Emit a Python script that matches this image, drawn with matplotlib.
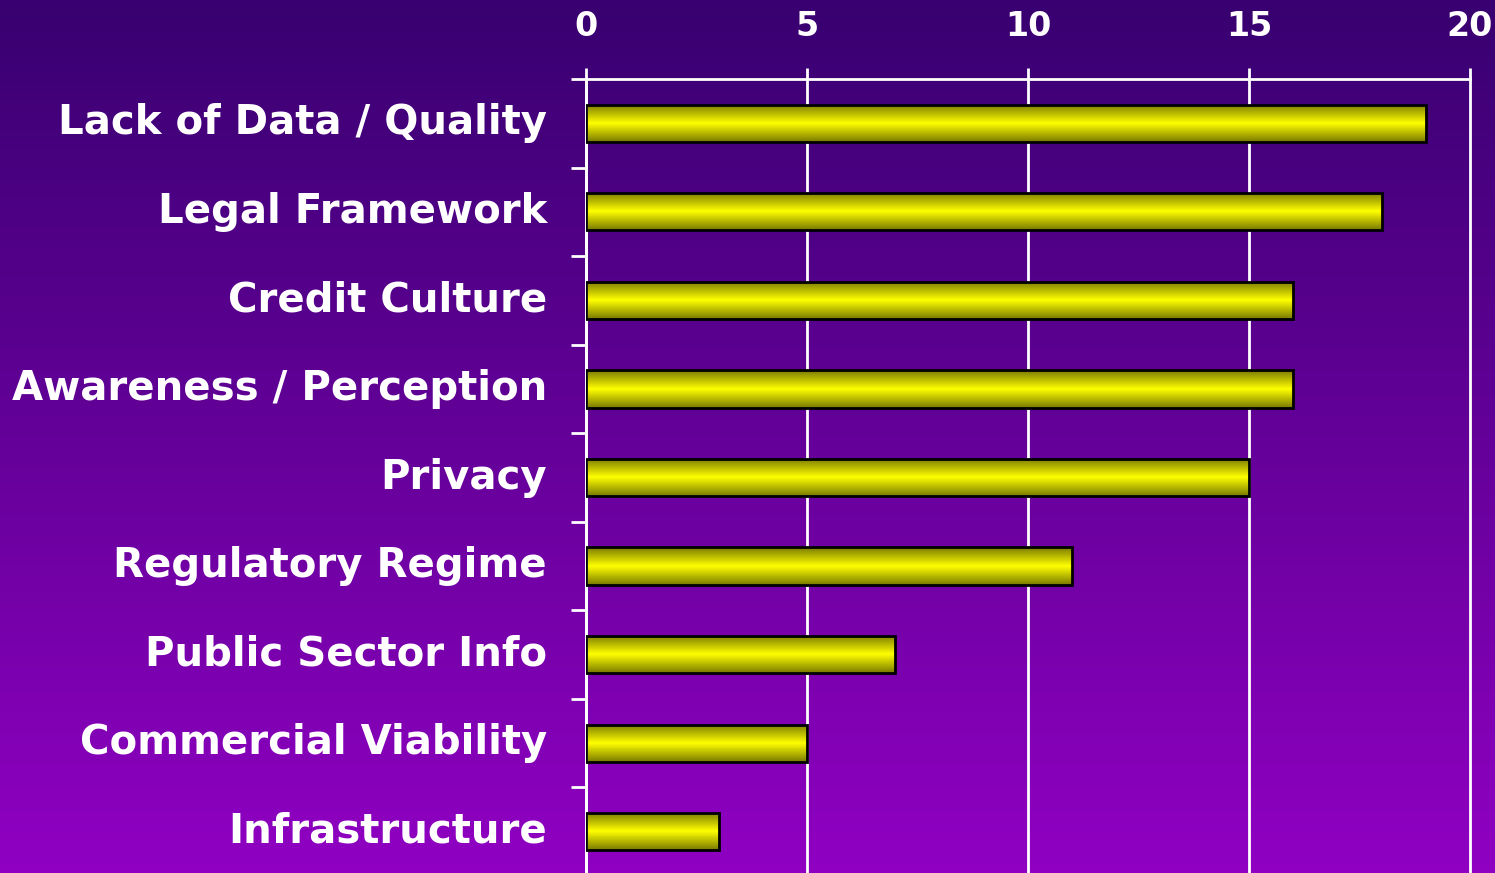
import numpy as np
import matplotlib.pyplot as plt
from matplotlib.colors import LinearSegmentedColormap

categories = ['Lack of Data / Quality', 'Legal Framework', 'Credit Culture',
              'Awareness / Perception', 'Privacy', 'Regulatory Regime',
              'Public Sector Info', 'Commercial Viability', 'Infrastructure']
values = [19, 18, 16, 16, 15, 11, 7, 5, 3]
xticks = [0, 5, 10, 15, 20]

plt.rcParams['font.family'] = ['DejaVu Sans']

fig = plt.figure(figsize=(14.95, 8.73), dpi=100)

# background gradient
bg = fig.add_axes([0, 0, 1, 1], zorder=-1)
bg_cmap = LinearSegmentedColormap.from_list('bg', ['#380070', '#9000c2'])
bg.imshow(np.linspace(0, 1, 256).reshape(-1, 1), aspect='auto', cmap=bg_cmap,
          extent=[0, 1, 0, 1], origin='upper')
bg.axis('off')

ax = fig.add_axes([586 / 1495, 1 - 876 / 873, (1470 - 586) / 1495, (876 - 79) / 873])
ax.patch.set_alpha(0)

y = np.arange(len(categories))
h = 0.42
bars = ax.barh(y, values, height=h, facecolor='none', edgecolor='black', linewidth=2, zorder=3)

bar_cmap = LinearSegmentedColormap.from_list('bar', ['#7a7a00', '#ffff00', '#7a7a00'])
grad = np.linspace(0, 1, 100).reshape(-1, 1)
for yi, v, b in zip(y, values, bars):
    im = ax.imshow(grad, aspect='auto', cmap=bar_cmap, extent=[0, v, yi + h / 2, yi - h / 2],
                   zorder=2)
    im.set_clip_path(b)

ax.set_xlim(0, 20)
ax.set_ylim(len(categories) - 0.5, -0.5)

ax.xaxis.tick_top()
ax.set_xticks(xticks)
ax.set_xticklabels([str(t) for t in xticks], fontsize=24, fontweight='bold', color='white')
ax.tick_params(axis='x', colors='white', length=8, width=2, pad=18)
ax.grid(axis='x', color='white', linewidth=2, zorder=1)
for gl in ax.get_xgridlines():
    gl.set_clip_on(False)

ax.set_yticks(np.arange(len(categories) + 1) - 0.5)
ax.set_yticklabels([])
ax.set_yticks(y, minor=True)
ax.set_yticklabels(categories, minor=True, fontsize=29, fontweight='bold', color='white',
                   va='center')
for lbl in ax.get_yticklabels(minor=True):
    lbl.set_y(lbl.get_position()[1])
ax.tick_params(axis='y', which='minor', length=0, pad=28)
ax.tick_params(axis='y', which='major', colors='white', length=11, width=2)

for s in ['bottom', 'right']:
    ax.spines[s].set_visible(False)
for s in ['top', 'left']:
    ax.spines[s].set_color('white')
    ax.spines[s].set_linewidth(2)

fig.savefig('out.png', dpi=100)
